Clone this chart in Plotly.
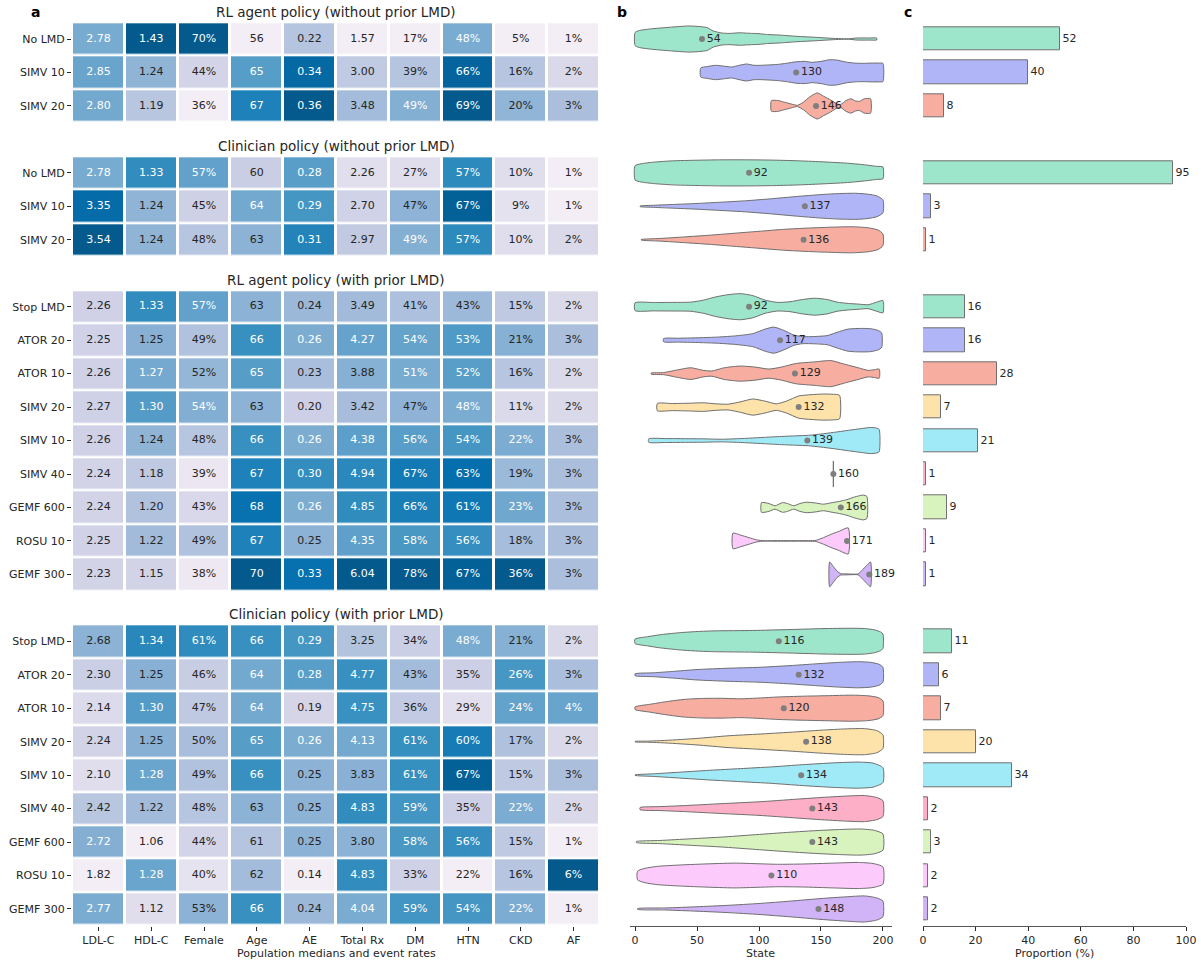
import plotly.graph_objects as go

# ---------------- data ----------------
columns = ["LDL-C", "HDL-C", "Female", "Age", "AE", "Total Rx", "DM", "HTN", "CKD", "AF"]
group_titles = ["RL agent policy (without prior LMD)", "Clinician policy (without prior LMD)",
                "RL agent policy (with prior LMD)", "Clinician policy (with prior LMD)"]
labels_g1 = ["No LMD", "SIMV 10", "SIMV 20"]
labels_g2 = ["No LMD", "SIMV 10", "SIMV 20"]
labels_g3 = ["Stop LMD", "ATOR 20", "ATOR 10", "SIMV 20", "SIMV 10", "SIMV 40", "GEMF 600", "ROSU 10", "GEMF 300"]
labels_g4 = ["Stop LMD", "ATOR 20", "ATOR 10", "SIMV 20", "SIMV 10", "SIMV 40", "GEMF 600", "ROSU 10", "GEMF 300"]

# heatmap columns (rows ordered g1, g2, g3, g4)
ldl = [2.78, 2.85, 2.80, 2.78, 3.35, 3.54, 2.26, 2.25, 2.26, 2.27, 2.26, 2.24, 2.24, 2.25, 2.23,
       2.68, 2.30, 2.14, 2.24, 2.10, 2.42, 2.72, 1.82, 2.77]
hdl = [1.43, 1.24, 1.19, 1.33, 1.24, 1.24, 1.33, 1.25, 1.27, 1.30, 1.24, 1.18, 1.20, 1.22, 1.15,
       1.34, 1.25, 1.30, 1.25, 1.28, 1.22, 1.06, 1.28, 1.12]
female = [70, 44, 36, 57, 45, 48, 57, 49, 52, 54, 48, 39, 43, 49, 38, 61, 46, 47, 50, 49, 48, 44, 40, 53]
age = [56, 65, 67, 60, 64, 63, 63, 66, 65, 63, 66, 67, 68, 67, 70, 66, 64, 64, 65, 66, 63, 61, 62, 66]
ae = [0.22, 0.34, 0.36, 0.28, 0.29, 0.31, 0.24, 0.26, 0.23, 0.20, 0.26, 0.30, 0.26, 0.25, 0.33,
      0.29, 0.28, 0.19, 0.26, 0.25, 0.25, 0.25, 0.14, 0.24]
total_rx = [1.57, 3.00, 3.48, 2.26, 2.70, 2.97, 3.49, 4.27, 3.88, 3.42, 4.38, 4.94, 4.85, 4.35, 6.04,
            3.25, 4.77, 4.75, 4.13, 3.83, 4.83, 3.80, 4.83, 4.04]
dm = [17, 39, 49, 27, 47, 49, 41, 54, 51, 47, 56, 67, 66, 58, 78, 34, 43, 36, 61, 61, 59, 58, 33, 59]
htn = [48, 66, 69, 57, 67, 57, 43, 53, 52, 48, 54, 63, 61, 56, 67, 48, 35, 29, 60, 67, 35, 56, 22, 54]
ckd = [5, 16, 20, 10, 9, 10, 15, 21, 16, 11, 22, 19, 23, 18, 36, 21, 26, 24, 17, 15, 22, 15, 16, 22]
af = [1, 2, 3, 1, 1, 2, 2, 3, 2, 2, 3, 3, 3, 3, 3, 2, 3, 4, 2, 3, 2, 1, 6, 1]
col_formats = ["{:.2f}", "{:.2f}", "{:.0f}%", "{:.0f}", "{:.2f}", "{:.2f}", "{:.0f}%", "{:.0f}%", "{:.0f}%", "{:.0f}%"]

# violin medians (state)
med_g1 = [54, 130, 146]
med_g2 = [92, 137, 136]
med_g3 = [92, 117, 129, 132, 139, 160, 166, 171, 189]
med_g4 = [116, 132, 120, 138, 134, 143, 143, 110, 148]

# violin density profiles: states and relative half-widths
vs_g1 = [[0, 3, 12, 28, 44, 58, 63, 70, 76, 85, 90, 95, 100, 106, 117, 130, 146, 160, 168, 173, 179, 189, 195],
         [53, 58, 65, 72, 78, 84, 90, 96, 102, 108, 115, 122, 130, 137, 143, 150, 157, 163, 170, 177, 184, 190, 197, 200],
         [110, 115, 120, 126, 131, 136, 141, 147, 152, 158, 163, 166, 170, 174, 178, 181, 185, 190]]
vw_g1 = [[0.5, 0.64, 0.77, 0.9, 1.0, 0.88, 0.62, 0.46, 0.43, 0.48, 0.45, 0.43, 0.41, 0.35, 0.3, 0.21, 0.13, 0.05, 0.02, 0.02, 0.08, 0.08, 0.07],
         [0.35, 0.45, 0.55, 0.48, 0.42, 0.55, 0.65, 0.55, 0.55, 0.58, 0.62, 0.7, 0.82, 0.85, 0.78, 0.85, 0.98, 0.95, 0.8, 0.72, 0.7, 0.72, 0.72, 0.7],
         [0.4, 0.42, 0.3, 0.15, 0.05, 0.3, 0.7, 1.0, 0.75, 0.45, 0.15, 0.12, 0.4, 0.55, 0.38, 0.35, 0.55, 0.55]]
vs_g2 = [[0, 5, 15, 30, 50, 70, 90, 110, 130, 150, 170, 185, 195, 200],
         [4, 15, 30, 50, 70, 90, 110, 130, 150, 165, 178, 188, 195, 200],
         [5, 20, 40, 60, 80, 100, 120, 140, 160, 175, 188, 196, 200]]
vw_g2 = [[0.55, 0.7, 0.82, 0.92, 0.97, 1.0, 1.0, 0.98, 0.93, 0.85, 0.75, 0.62, 0.5, 0.45],
         [0.02, 0.08, 0.14, 0.22, 0.32, 0.43, 0.58, 0.75, 0.9, 0.98, 1.0, 0.93, 0.8, 0.5],
         [0.02, 0.1, 0.22, 0.35, 0.5, 0.65, 0.8, 0.9, 0.97, 1.0, 0.92, 0.75, 0.45]]
vs_g3 = [[0, 15, 30, 45, 55, 65, 75, 85, 95, 105, 115, 125, 135, 145, 155, 163, 172, 180, 188, 195, 200],
         [23, 35, 50, 65, 80, 95, 105, 112, 120, 128, 135, 145, 155, 163, 172, 182, 190, 196, 199],
         [13, 23, 35, 45, 55, 62, 72, 85, 97, 108, 118, 130, 145, 158, 168, 180, 188, 193, 197],
         [18, 30, 45, 55, 65, 75, 85, 95, 105, 114, 122, 132, 142, 152, 160, 165],
         [11, 25, 40, 55, 70, 85, 100, 115, 130, 140, 150, 160, 172, 183, 190, 195, 197],
         [160, 160],
         [102, 108, 113, 119, 123, 128, 133, 138, 145, 152, 158, 165, 171, 176, 181, 184, 187],
         [79, 85, 92, 98, 104, 110, 125, 140, 146, 152, 158, 165, 172],
         [157, 160, 163, 166, 170, 180, 183, 187, 190]]
vw_g3 = [[0.3, 0.32, 0.33, 0.35, 0.5, 0.75, 0.92, 1.0, 0.85, 0.5, 0.33, 0.38, 0.55, 0.65, 0.55, 0.35, 0.25, 0.2, 0.15, 0.35, 0.47],
         [0.12, 0.15, 0.18, 0.23, 0.32, 0.5, 0.85, 1.0, 0.75, 0.4, 0.27, 0.28, 0.35, 0.6, 0.85, 0.9, 0.88, 0.75, 0.55],
         [0.04, 0.08, 0.3, 0.45, 0.25, 0.2, 0.45, 0.58, 0.5, 0.35, 0.5, 0.78, 0.9, 1.0, 0.75, 0.45, 0.25, 0.3, 0.35],
         [0.28, 0.27, 0.3, 0.33, 0.25, 0.22, 0.4, 0.62, 0.45, 0.25, 0.45, 0.85, 0.95, 1.0, 0.98, 0.9],
         [0.13, 0.15, 0.14, 0.13, 0.1, 0.15, 0.22, 0.3, 0.36, 0.4, 0.5, 0.62, 0.78, 0.92, 1.0, 0.95, 0.85],
         [1.0, 1.0],
         [0.37, 0.3, 0.13, 0.37, 0.3, 0.13, 0.3, 0.4, 0.35, 0.25, 0.35, 0.47, 0.6, 0.77, 0.9, 0.95, 0.85],
         [0.6, 0.45, 0.25, 0.08, 0.02, 0.02, 0.02, 0.02, 0.05, 0.25, 0.5, 0.75, 1.0],
         [0.95, 0.6, 0.25, 0.05, 0.04, 0.04, 0.3, 0.7, 0.95]]
vs_g4 = [[0, 10, 20, 35, 50, 65, 95, 125, 155, 175, 185, 193, 198, 200],
         [0, 15, 30, 50, 75, 100, 125, 145, 165, 180, 190, 197, 200],
         [0, 12, 25, 40, 55, 70, 85, 100, 115, 135, 155, 175, 188, 196, 200],
         [0, 10, 25, 50, 75, 100, 125, 150, 170, 185, 195, 200],
         [0, 15, 35, 60, 85, 110, 135, 160, 180, 192, 200],
         [4, 20, 40, 70, 100, 130, 155, 175, 185, 195, 200],
         [1, 20, 45, 70, 95, 120, 145, 165, 182, 193, 200],
         [2, 8, 18, 35, 55, 80, 100, 115, 135, 160, 180, 192, 200],
         [2, 25, 50, 75, 100, 125, 150, 170, 185, 195, 200]]
vw_g4 = [[0.17, 0.35, 0.5, 0.65, 0.75, 0.8, 0.83, 0.9, 0.98, 1.0, 0.98, 0.88, 0.72, 0.55],
         [0.07, 0.15, 0.25, 0.4, 0.5, 0.57, 0.7, 0.83, 0.95, 1.0, 0.95, 0.8, 0.57],
         [0.1, 0.3, 0.5, 0.68, 0.75, 0.76, 0.72, 0.78, 0.86, 0.92, 0.96, 1.0, 0.95, 0.82, 0.57],
         [0.02, 0.04, 0.1, 0.25, 0.45, 0.58, 0.72, 0.88, 0.98, 1.0, 0.85, 0.52],
         [0.02, 0.1, 0.22, 0.37, 0.5, 0.63, 0.8, 0.94, 1.0, 0.92, 0.57],
         [0.08, 0.15, 0.23, 0.38, 0.52, 0.72, 0.88, 0.98, 1.0, 0.85, 0.6],
         [0.04, 0.12, 0.25, 0.38, 0.55, 0.72, 0.87, 0.96, 1.0, 0.9, 0.62],
         [0.33, 0.55, 0.7, 0.8, 0.88, 0.95, 0.9, 0.86, 0.88, 0.95, 1.0, 0.92, 0.66],
         [0.03, 0.08, 0.17, 0.28, 0.42, 0.6, 0.8, 0.93, 1.0, 0.85, 0.6]]

# proportion of each action (%)
prop_g1 = [52, 40, 8]
prop_g2 = [95, 3, 1]
prop_g3 = [16, 16, 28, 7, 21, 1, 9, 1, 1]
prop_g4 = [11, 6, 7, 20, 34, 2, 3, 2, 2]

# ---------------- styling ----------------
palette = ['#9ee6cb', '#b0b5f8', '#f8ada1', '#fde2a9', '#9feaf6', '#fdafc7', '#d9f3bf', '#fdcafc', '#d1b3f8']
DARK = '#262626'
FONT = "DejaVu Sans"
OFF = 0                      # body margin removed via post_script
W, H = 1201 - OFF, 961 - OFF
TOP, BOT = 22.3, 925.7       # page-pixel extent of the row area


def px_x(x):
    return (x - OFF) / W


def px_y(y):
    return 1 - (y - OFF) / H


group_labels = [labels_g1, labels_g2, labels_g3, labels_g4]
group_starts = [0, 4, 8, 18]
title_slots = [-1, 3, 7, 17]
data_rows = [s + i for s, lab in zip(group_starts, group_labels) for i in range(len(lab))]
n_slots = 27
pitch = (BOT - TOP) / n_slots

pubu = ['#fff7fb', '#ece7f2', '#d0d1e6', '#a6bddb', '#74a9cf', '#3690c0', '#0570b0', '#045a8d', '#023858']


def hex2rgb(h):
    return [int(h[i:i + 2], 16) for i in (1, 3, 5)]


def pubu_at(p):
    p = min(max(p, 0.0), 1.0) * 8
    i = min(int(p), 7)
    f = p - i
    a, b = hex2rgb(pubu[i]), hex2rgb(pubu[i + 1])
    return [a[k] + (b[k] - a[k]) * f for k in range(3)]


def cmap(t):
    return pubu_at(0.08 + 0.795 * (t ** 1.14))


def rgb_str(c):
    return "rgb(%d,%d,%d)" % tuple(round(v) for v in c)


def lum(c):
    def lin(v):
        v = v / 255.0
        return v / 12.92 if v <= 0.03928 else ((v + 0.055) / 1.055) ** 2.4
    return 0.2126 * lin(c[0]) + 0.7152 * lin(c[1]) + 0.0722 * lin(c[2])


colorscale = [[i / 40, rgb_str(cmap(i / 40))] for i in range(41)]

table = [ldl, hdl, female, age, ae, total_rx, dm, htn, ckd, af]
Z = [[None] * len(columns) for _ in range(n_slots)]
tx, ty, tt, tc = [], [], [], []
for j, col in enumerate(table):
    lo, hi = min(col), max(col)
    for k, v in enumerate(col):
        t = (v - lo) / (hi - lo)
        r = data_rows[k]
        Z[r][j] = t
        tx.append(j)
        ty.append(r)
        tt.append(col_formats[j].format(v))
        tc.append(DARK if lum(cmap(t)) > 0.408 else 'white')

fig = go.Figure()
fig.add_trace(go.Heatmap(z=Z, x=list(range(len(columns))), y=list(range(n_slots)), colorscale=colorscale,
                         zmin=0, zmax=1, xgap=3, ygap=2.5, showscale=False, hoverongaps=False,
                         xaxis='x', yaxis='y'))
fig.add_trace(go.Scatter(x=tx, y=ty, text=tt, mode='text', textfont=dict(family=FONT, size=11, color=tc),
                         xaxis='x', yaxis='y', showlegend=False, hoverinfo='skip'))

# violins
HW = 0.39
all_vs = vs_g1 + vs_g2 + vs_g3 + vs_g4
all_vw = vw_g1 + vw_g2 + vw_g3 + vw_g4
all_med = med_g1 + med_g2 + med_g3 + med_g4
all_prop = prop_g1 + prop_g2 + prop_g3 + prop_g4
colors = []
for lab in group_labels:
    colors += palette[:len(lab)]

for k, (s, w) in enumerate(zip(all_vs, all_vw)):
    r = data_rows[k]
    xs = list(s) + list(s[::-1]) + [s[0]]
    ys = [r - HW * v for v in w] + [r + HW * v for v in w[::-1]] + [r - HW * w[0]]
    fig.add_trace(go.Scatter(x=xs, y=ys, mode='lines', fill='toself', fillcolor=colors[k],
                             line=dict(color='#6e6e6e', width=1, shape='spline', smoothing=0.6),
                             xaxis='x2', yaxis='y2', showlegend=False, hoverinfo='skip'))

fig.add_trace(go.Scatter(x=all_med, y=data_rows, mode='markers+text', text=[str(m) for m in all_med],
                         textposition='middle right', marker=dict(color='#7f7f7f', size=6),
                         textfont=dict(family=FONT, size=11, color=DARK), cliponaxis=False,
                         xaxis='x2', yaxis='y2', showlegend=False, hoverinfo='skip'))

# bars
fig.add_trace(go.Bar(x=all_prop, y=data_rows, orientation='h', width=0.7,
                     marker=dict(color=colors, line=dict(color='#707070', width=1)),
                     text=[str(p) for p in all_prop], textposition='outside',
                     textfont=dict(family=FONT, size=11, color=DARK), cliponaxis=False,
                     xaxis='x3', yaxis='y3', showlegend=False, hoverinfo='skip'))

ydom = [px_y(BOT), px_y(TOP)]
yrange = [n_slots - 0.5, -0.5]
tickfont = dict(family=FONT, size=11, color=DARK)
axis_common = dict(showgrid=False, zeroline=False, ticks='outside', ticklen=4, tickwidth=1,
                   tickcolor=DARK, tickfont=tickfont, automargin=False)

ticklabels = [lab for g in group_labels for lab in g]
fig.update_layout(
    width=W, height=H, margin=dict(l=0, r=0, t=0, b=0, autoexpand=False),
    paper_bgcolor='white', plot_bgcolor='white',
    font=dict(family=FONT, size=11, color=DARK),
    showlegend=False, bargap=0,
    xaxis=dict(domain=[px_x(72), px_x(600)], range=[-0.5, 9.5], tickvals=list(range(10)), ticktext=columns,
               showline=False, anchor='y', **axis_common),
    yaxis=dict(domain=ydom, range=yrange, tickvals=data_rows, ticktext=ticklabels, showline=False,
               anchor='x', **axis_common),
    xaxis2=dict(domain=[px_x(629.6), px_x(892)], range=[-4.4, 207.3], tickvals=[0, 50, 100, 150, 200],
                showline=True, linecolor='#555555', linewidth=1.2, anchor='y2', **axis_common),
    yaxis2=dict(domain=ydom, range=yrange, visible=False, anchor='x2'),
    xaxis3=dict(domain=[px_x(923), px_x(1186)], range=[0, 100], tickvals=[0, 20, 40, 60, 80, 100],
                showline=True, linecolor='#555555', linewidth=1.2, anchor='y3', **axis_common),
    yaxis3=dict(domain=ydom, range=yrange, visible=False, anchor='x3'),
)

xc = px_x((72 + 600) / 2)
for slot, title in zip(title_slots, group_titles):
    ypx = TOP + (slot + 0.5 + 0.19) * pitch
    fig.add_annotation(x=xc, xref='paper', y=px_y(ypx), yref='paper', text=title, showarrow=False,
                       font=dict(family=FONT, size=13.5, color=DARK), xanchor='center', yanchor='middle')

for text, px in [('Population medians and event rates', 336), ('State', 760), ('Proportion (%)', 1054)]:
    fig.add_annotation(x=px_x(px), xref='paper', y=px_y(953), yref='paper', text=text, showarrow=False,
                       font=tickfont, xanchor='center', yanchor='middle')

for letter, px in [('a', 35), ('b', 622), ('c', 908)]:
    fig.add_annotation(x=px_x(px), xref='paper', y=px_y(12), yref='paper', text='<b>%s</b>' % letter,
                       showarrow=False, font=dict(family=FONT, size=14, color='black'),
                       xanchor='center', yanchor='middle')

fig.write_html("out.html", config={'displayModeBar': False},
               post_script="document.body.style.margin='0px';document.body.style.overflow='hidden';")
